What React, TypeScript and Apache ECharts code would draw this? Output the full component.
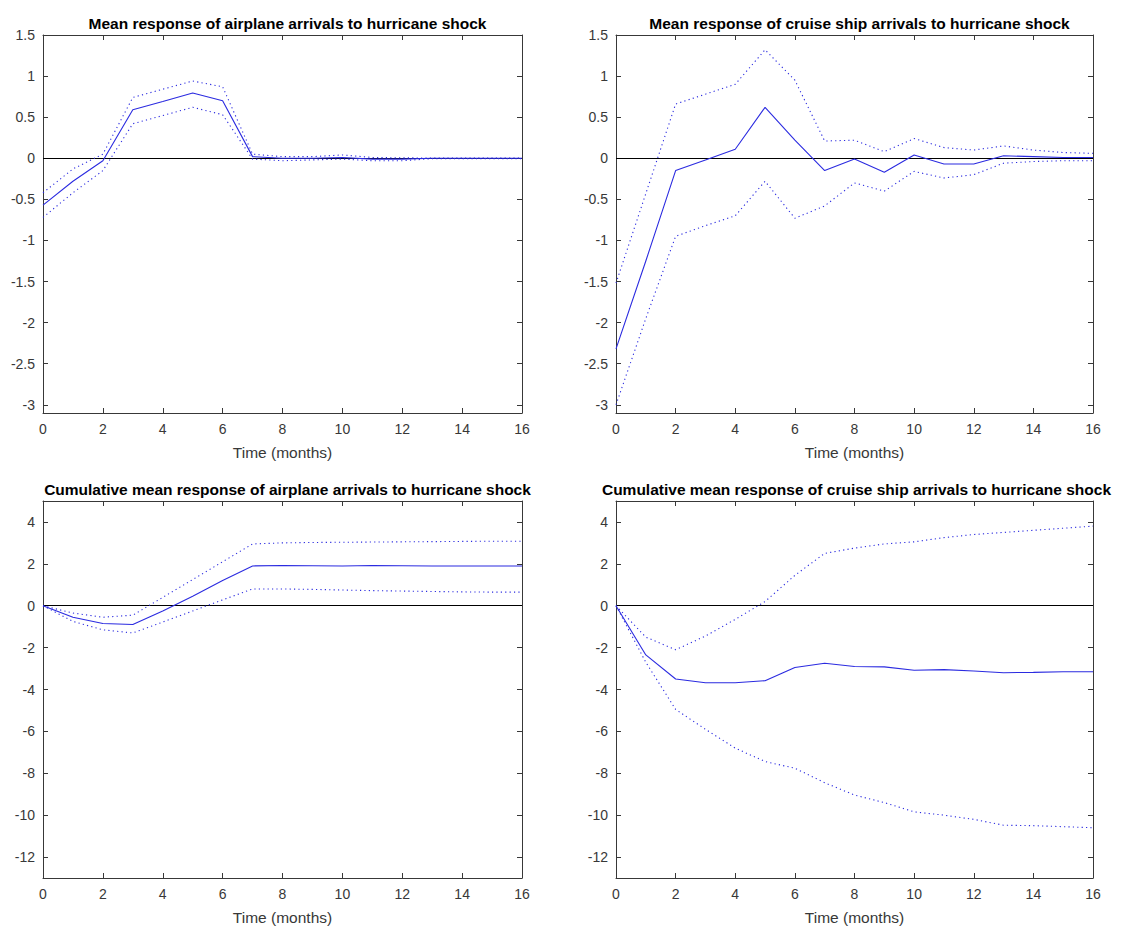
import React, { useEffect, useRef } from "react";
import * as echarts from "echarts";

const months = [0, 1, 2, 3, 4, 5, 6, 7, 8, 9, 10, 11, 12, 13, 14, 15, 16];

const airMean = [-0.57, -0.28, -0.03, 0.59, 0.69, 0.795, 0.7, 0.02, 0.0, 0.0, 0.01, -0.01, -0.01, 0.0, 0.0, 0.0, 0.0];
const airUpper = [-0.42, -0.13, 0.05, 0.74, 0.84, 0.94, 0.87, 0.05, 0.02, 0.02, 0.04, 0.01, 0.005, 0.003, 0.003, 0.003, 0.003];
const airLower = [-0.72, -0.42, -0.15, 0.42, 0.52, 0.62, 0.53, -0.01, -0.03, -0.02, -0.01, -0.03, -0.03, -0.005, -0.005, -0.005, -0.005];

const cruiseMean = [-2.32, -1.25, -0.15, -0.02, 0.11, 0.62, 0.22, -0.15, -0.01, -0.17, 0.04, -0.07, -0.07, 0.03, 0.02, 0.01, 0.01];
const cruiseUpper = [-1.52, -0.43, 0.66, 0.78, 0.9, 1.32, 0.95, 0.21, 0.22, 0.08, 0.24, 0.13, 0.1, 0.15, 0.1, 0.07, 0.06];
const cruiseLower = [-3.0, -1.95, -0.95, -0.82, -0.7, -0.28, -0.73, -0.58, -0.3, -0.4, -0.16, -0.24, -0.2, -0.06, -0.04, -0.03, -0.03];

const cumAirMean = [0, -0.55, -0.85, -0.9, -0.25, 0.45, 1.2, 1.9, 1.92, 1.91, 1.9, 1.92, 1.91, 1.9, 1.9, 1.9, 1.9];
const cumAirUpper = [0, -0.35, -0.55, -0.45, 0.4, 1.25, 2.1, 2.95, 3.0, 3.02, 3.03, 3.04, 3.05, 3.06, 3.07, 3.08, 3.08];
const cumAirLower = [0, -0.75, -1.15, -1.3, -0.78, -0.25, 0.28, 0.8, 0.8, 0.78, 0.75, 0.72, 0.7, 0.68, 0.66, 0.65, 0.65];

const cumCruiseMean = [0, -2.35, -3.5, -3.68, -3.68, -3.58, -2.95, -2.75, -2.9, -2.92, -3.08, -3.05, -3.12, -3.2, -3.18, -3.15, -3.15];
const cumCruiseUpper = [0, -1.5, -2.1, -1.45, -0.65, 0.2, 1.45, 2.5, 2.75, 2.95, 3.05, 3.25, 3.4, 3.5, 3.6, 3.7, 3.8];
const cumCruiseLower = [0, -2.7, -4.95, -5.9, -6.8, -7.44, -7.76, -8.45, -9.04, -9.4, -9.84, -10.0, -10.2, -10.48, -10.5, -10.55, -10.6];

const titles = [
  "Mean response of airplane arrivals to hurricane shock",
  "Mean response of cruise ship arrivals to hurricane shock",
  "Cumulative mean response of airplane arrivals to hurricane shock",
  "Cumulative mean response of cruise ship arrivals to hurricane shock",
];

const yTicksTop = [-3, -2.5, -2, -1.5, -1, -0.5, 0, 0.5, 1, 1.5];
const yTicksBottom = [-12, -10, -8, -6, -4, -2, 0, 2, 4];

const xLabel = "Time (months)";

export default function App() {
  const ref = useRef<HTMLDivElement>(null);

  useEffect(() => {
    if (!ref.current) return;
    const chart = echarts.init(ref.current, null, { renderer: "svg" });

    const FONT = "'Liberation Sans', Arial, Helvetica, sans-serif";
    const AXIS = "#383838";
    const BLUE = "#2b2be0";

    const panels = [
      { left: 43, top: 35, width: 479, height: 378, ymin: -3.1, ymax: 1.5, ticks: yTicksTop, mean: airMean, up: airUpper, lo: airLower },
      { left: 616, top: 35, width: 477, height: 378, ymin: -3.1, ymax: 1.5, ticks: yTicksTop, mean: cruiseMean, up: cruiseUpper, lo: cruiseLower },
      { left: 43, top: 501, width: 479, height: 377, ymin: -13, ymax: 5, ticks: yTicksBottom, mean: cumAirMean, up: cumAirUpper, lo: cumAirLower },
      { left: 616, top: 501, width: 477, height: 377, ymin: -13, ymax: 5, ticks: yTicksBottom, mean: cumCruiseMean, up: cumCruiseUpper, lo: cumCruiseLower },
    ];

    const grid: any[] = [];
    const xAxis: any[] = [];
    const yAxis: any[] = [];
    const series: any[] = [];
    const title: any[] = [];

    panels.forEach((p, i) => {
      grid.push({ left: p.left, top: p.top, width: p.width, height: p.height, containLabel: false });
      const axLine = { show: true, onZero: false, lineStyle: { color: AXIS, width: 1 } };
      const tick = { show: true, inside: true, length: 5, lineStyle: { color: AXIS } };
      xAxis.push({
        type: "value",
        gridIndex: i,
        position: "bottom",
        min: 0,
        max: 16,
        interval: 2,
        axisLine: axLine,
        axisTick: tick,
        splitLine: { show: false },
        axisLabel: { color: AXIS, fontSize: 14, fontFamily: FONT, margin: 9 },
        name: xLabel,
        nameLocation: "middle",
        nameGap: 31,
        nameTextStyle: { color: AXIS, fontSize: 15.5, fontFamily: FONT },
      });
      xAxis.push({
        type: "value",
        gridIndex: i,
        position: "top",
        min: 0,
        max: 16,
        interval: 2,
        axisLine: axLine,
        axisTick: tick,
        splitLine: { show: false },
        axisLabel: { show: false },
      });
      yAxis.push({
        type: "value",
        gridIndex: i,
        position: "left",
        min: p.ymin,
        max: p.ymax,
        axisLine: axLine,
        axisTick: { ...tick, customValues: p.ticks },
        splitLine: { show: false },
        axisLabel: { color: AXIS, fontSize: 14, fontFamily: FONT, margin: 8, customValues: p.ticks },
      });
      yAxis.push({
        type: "value",
        gridIndex: i,
        position: "right",
        min: p.ymin,
        max: p.ymax,
        axisLine: axLine,
        axisTick: { ...tick, customValues: p.ticks },
        splitLine: { show: false },
        axisLabel: { show: false, customValues: p.ticks },
      });
      const toData = (arr: number[]) => months.map((m, k) => [m, arr[k]]);
      series.push({
        type: "line",
        xAxisIndex: i * 2,
        yAxisIndex: i * 2,
        data: toData(p.mean),
        symbol: "none",
        lineStyle: { color: BLUE, width: 1.1 },
        z: 4,
        markLine: {
          silent: true,
          symbol: "none",
          label: { show: false },
          lineStyle: { color: "#000", type: "solid", width: 1 },
          data: [{ yAxis: 0 }],
          z: 3,
        },
      });
      series.push({
        type: "line",
        xAxisIndex: i * 2,
        yAxisIndex: i * 2,
        data: toData(p.up),
        symbol: "none",
        lineStyle: { color: BLUE, width: 1.1, type: [1.2, 3.2] },
        z: 4,
      });
      series.push({
        type: "line",
        xAxisIndex: i * 2,
        yAxisIndex: i * 2,
        data: toData(p.lo),
        symbol: "none",
        lineStyle: { color: BLUE, width: 1.1, type: [1.2, 3.2] },
        z: 4,
      });
      title.push({
        text: titles[i],
        left: p.left + p.width / 2 - (i === 3 ? 3 : 0),
        top: p.top - 25,
        textAlign: "center",
        textStyle: { color: "#000", fontSize: 15.5, fontWeight: "bold", fontFamily: FONT },
      });
    });

    chart.setOption({
      animation: false,
      backgroundColor: "#ffffff",
      title,
      grid,
      xAxis,
      yAxis,
      series,
    });

    return () => chart.dispose();
  }, []);

  return (
    <div
      ref={ref}
      style={{ position: "fixed", left: 0, top: 0, width: 1121, height: 926, background: "#fff" }}
    />
  );
}
